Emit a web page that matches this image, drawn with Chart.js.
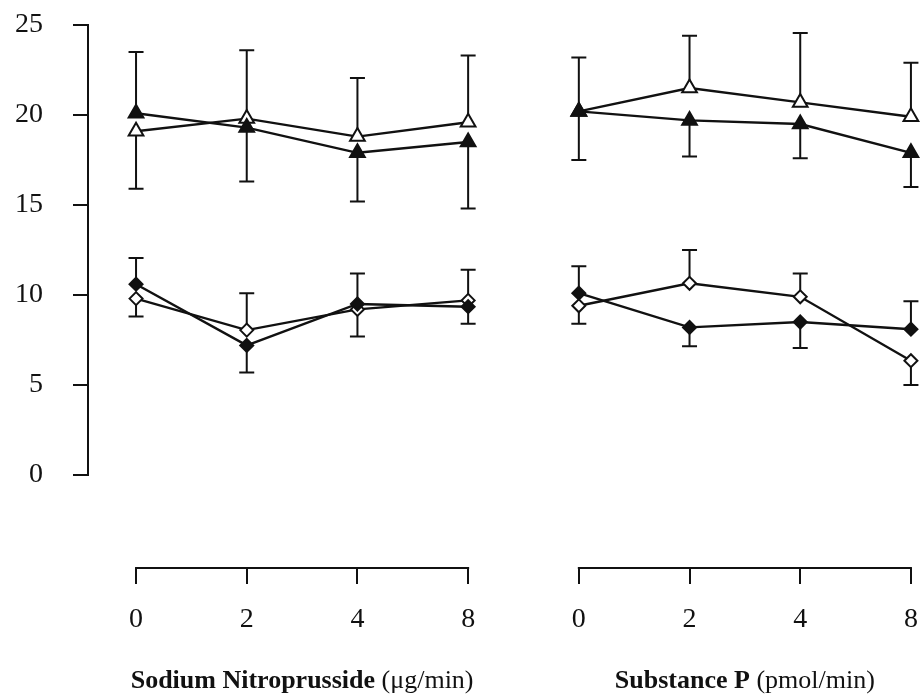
<!DOCTYPE html>
<html>
<head>
<meta charset="utf-8">
<script src="https://cdn.jsdelivr.net/npm/chart.js@4.4.1/dist/chart.umd.min.js"></script>
<style>
  html, body { margin: 0; padding: 0; background: #fff; }
  #wrap { width: 921px; height: 696px; }
</style>
</head>
<body>
<div id="wrap"><canvas id="chart" width="921" height="696"></canvas></div>
<script>
// Dose steps shown under each panel (equally spaced)
const doseLabels = ['0', '2', '4', '8'];
const yTickValues = [0, 5, 10, 15, 20, 25];
const panelTitles = [
  ['Sodium Nitroprusside', ' (\u03bcg/min)'],
  ['Substance P', ' (pmol/min)']
];

// Sodium nitroprusside panel
const snpOpenTri = [19.1, 19.8, 18.8, 19.6];
const snpFilledTri = [20.1, 19.3, 17.9, 18.5];
const snpOpenDia = [9.8, 8.05, 9.2, 9.7];
const snpFilledDia = [10.6, 7.2, 9.5, 9.35];

// Substance P panel
const spOpenTri = [20.2, 21.5, 20.7, 19.9];
const spFilledTri = [20.2, 19.7, 19.5, 17.9];
const spOpenDia = [9.4, 10.65, 9.9, 6.35];
const spFilledDia = [10.1, 8.2, 8.5, 8.1];

// Error bars, one-sided: positive = drawn upward, negative = downward
const snpOpenTriErr = [-3.2, 3.8, 3.25, 3.7];
const snpFilledTriErr = [3.4, -3.0, -2.7, -3.7];
const snpOpenDiaErr = [-1.0, 2.05, -1.5, 1.7];
const snpFilledDiaErr = [1.45, -1.5, 1.7, -0.95];

const spOpenTriErr = [3.0, 2.9, 3.85, 3.0];
const spFilledTriErr = [-2.7, -2.0, -1.9, -1.9];
const spOpenDiaErr = [-1.0, 1.85, 1.3, -1.35];
const spFilledDiaErr = [1.5, -1.05, -1.45, 1.55];

const INK = '#111';
const FONT = "'Liberation Serif', 'Times New Roman', serif";

function series(values, errors, panel, style, filled) {
  const offset = panel * doseLabels.length;
  return {
    data: values.map((v, i) => ({ x: offset + i, y: v })),
    errors: errors,
    borderColor: INK,
    borderWidth: 2.4,
    pointStyle: style,
    pointRadius: style === 'triangle' ? 8.5 : 6.5,
    pointBorderWidth: 2,
    pointBorderColor: INK,
    pointBackgroundColor: filled ? INK : '#fff',
    tension: 0,
    clip: false
  };
}

// Error bars behind the markers, axis lines and panel titles
const framePlugin = {
  id: 'frame',
  beforeDatasetsDraw(chart) {
    const ctx = chart.ctx;
    const y = chart.scales.y;
    ctx.save();
    ctx.strokeStyle = INK;
    ctx.lineWidth = 2;
    chart.data.datasets.forEach((ds, di) => {
      const meta = chart.getDatasetMeta(di);
      ds.errors.forEach((e, i) => {
        const pt = meta.data[i];
        const end = y.getPixelForValue(ds.data[i].y + e);
        ctx.beginPath();
        ctx.moveTo(pt.x, pt.y);
        ctx.lineTo(pt.x, end);
        ctx.moveTo(pt.x - 7.5, end);
        ctx.lineTo(pt.x + 7.5, end);
        ctx.stroke();
      });
    });
    ctx.restore();
  },
  afterDraw(chart) {
    const ctx = chart.ctx;
    const x = chart.scales.x;
    const y = chart.scales.y;
    const area = chart.chartArea;
    ctx.save();
    ctx.strokeStyle = INK;
    ctx.lineWidth = 2;

    // vertical axis only spans the data range
    ctx.beginPath();
    ctx.moveTo(y.right, y.getPixelForValue(0) + 1);
    ctx.lineTo(y.right, y.getPixelForValue(25) - 1);
    ctx.stroke();

    // a separate dose axis under each panel
    const n = doseLabels.length;
    panelTitles.forEach((title, p) => {
      const x0 = x.getPixelForValue(p * n);
      const x1 = x.getPixelForValue(p * n + n - 1);
      ctx.beginPath();
      ctx.moveTo(x0 - 1, area.bottom);
      ctx.lineTo(x1 + 1, area.bottom);
      ctx.stroke();

      ctx.fillStyle = INK;
      ctx.textBaseline = 'alphabetic';
      ctx.font = 'bold 26px ' + FONT;
      const wBold = ctx.measureText(title[0]).width;
      ctx.font = '26px ' + FONT;
      const wNorm = ctx.measureText(title[1]).width;
      const cx = (x0 + x1) / 2;
      const left = cx - (wBold + wNorm) / 2;
      const base = 688;
      ctx.font = 'bold 26px ' + FONT;
      ctx.fillText(title[0], left, base);
      ctx.font = '26px ' + FONT;
      ctx.fillText(title[1], left + wBold, base);
    });
    ctx.restore();
  }
};

new Chart(document.getElementById('chart'), {
  type: 'line',
  data: {
    datasets: [
      series(snpFilledTri, snpFilledTriErr, 0, 'triangle', true),
      series(snpOpenTri, snpOpenTriErr, 0, 'triangle', false),
      series(snpFilledDia, snpFilledDiaErr, 0, 'rectRot', true),
      series(snpOpenDia, snpOpenDiaErr, 0, 'rectRot', false),
      series(spFilledTri, spFilledTriErr, 1, 'triangle', true),
      series(spOpenTri, spOpenTriErr, 1, 'triangle', false),
      series(spFilledDia, spFilledDiaErr, 1, 'rectRot', true),
      series(spOpenDia, spOpenDiaErr, 1, 'rectRot', false)
    ]
  },
  options: {
    responsive: false,
    animation: false,
    devicePixelRatio: 1,
    layout: { autoPadding: false, padding: { top: 25, right: 0, bottom: 0, left: 0 } },
    plugins: { legend: { display: false }, tooltip: { enabled: false } },
    scales: {
      x: {
        type: 'linear',
        min: -0.434,
        max: 7.091,
        afterFit: s => {
          s.height = 128;
          s.paddingLeft = 0;
          s.paddingRight = 0;
        },
        afterBuildTicks: s => {
          s.ticks = [];
          for (let v = 0; v < doseLabels.length * 2; v++) s.ticks.push({ value: v });
        },
        border: { display: false },
        grid: { drawOnChartArea: false, color: INK, lineWidth: 2, tickLength: 16 },
        ticks: {
          autoSkip: false,
          maxRotation: 0,
          padding: 19,
          color: INK,
          font: { family: FONT, size: 28 },
          callback: v => doseLabels[v % doseLabels.length]
        }
      },
      y: {
        min: -5.1667,
        max: 25,
        afterFit: s => {
          s.width = 88;
          s.paddingTop = 0;
          s.paddingBottom = 0;
        },
        afterBuildTicks: s => { s.ticks = yTickValues.map(v => ({ value: v })); },
        border: { display: false },
        grid: { drawOnChartArea: false, color: INK, lineWidth: 2, tickLength: 15 },
        ticks: {
          padding: 30,
          color: INK,
          font: { family: FONT, size: 28 }
        }
      }
    }
  },
  plugins: [framePlugin]
});
</script>
</body>
</html>
